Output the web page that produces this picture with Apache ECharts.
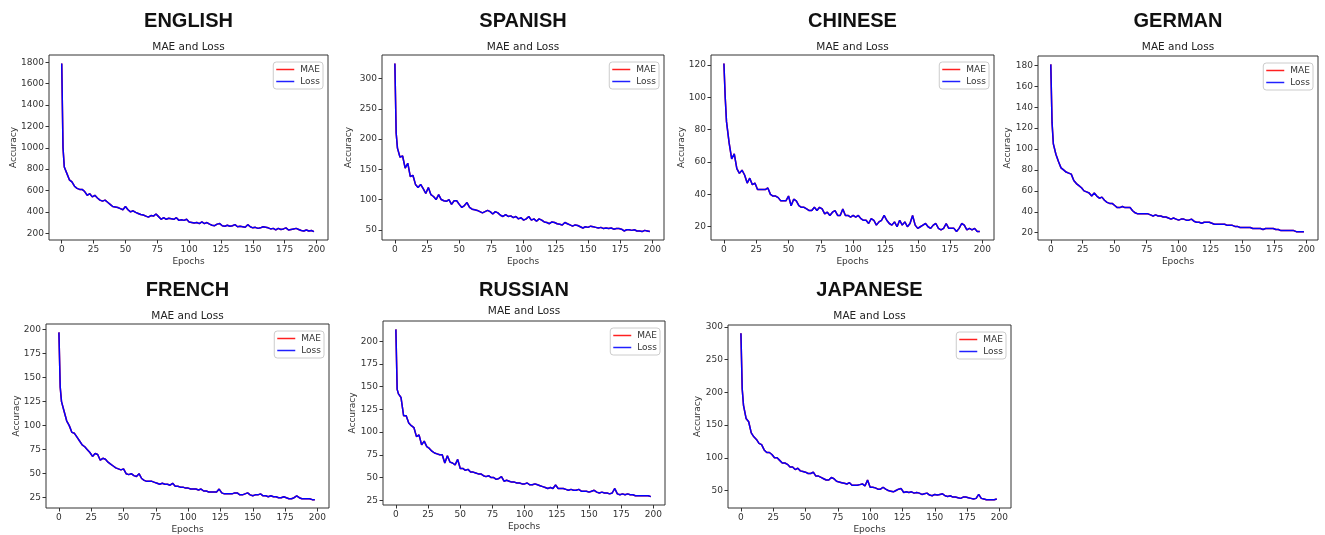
<!DOCTYPE html>
<html>
<head>
<meta charset="utf-8">
<script src="https://cdn.jsdelivr.net/npm/echarts@6/dist/echarts.min.js"></script>
<style>
  html, body { margin: 0; padding: 0; background: #fff; }
  #chart { width: 1325px; height: 535px; }
</style>
</head>
<body>
<div id="chart"></div>
<script>
// epochs: 0, 1, then every second epoch
const EPOCHS = [0, 1];
for (let e = 2; e <= 198; e += 2) EPOCHS.push(e);

const LANGUAGES = ['ENGLISH', 'SPANISH', 'CHINESE', 'GERMAN', 'FRENCH', 'RUSSIAN', 'JAPANESE'];

// loss values (MAE is the same curve, drawn underneath)
const ENGLISH = [1790, 1000,
  820, 760, 700, 680, 640, 620, 610, 610, 590, 555,
  570, 540, 555, 530, 510, 500, 510, 490, 470, 450,
  445, 440, 430, 420, 450, 420, 400, 410, 395, 385,
  375, 370, 360, 350, 365, 360, 380, 355, 330, 345,
  330, 340, 335, 330, 345, 320, 325, 320, 330, 305,
  300, 295, 300, 290, 305, 290, 300, 285, 275, 270,
  285, 290, 270, 265, 275, 265, 270, 280, 260, 265,
  260, 255, 280, 260, 250, 255, 245, 250, 260, 255,
  250, 240, 245, 230, 245, 235, 240, 250, 230, 235,
  240, 245, 235, 225, 220, 230, 220, 225, 215];

const SPANISH = [325, 210,
  185, 170, 172, 152, 160, 138, 140, 125, 120, 125,
  118, 110, 120, 108, 105, 100, 108, 100, 98, 97,
  100, 92, 98, 98, 92, 87, 90, 95, 87, 84,
  83, 82, 80, 78, 80, 82, 80, 76, 80, 78,
  74, 72, 75, 72, 73, 70, 72, 68, 70, 66,
  68, 72, 66, 68, 64, 68, 66, 63, 62, 60,
  63, 62, 60, 59, 58, 62, 60, 58, 56, 58,
  57, 55, 53, 55, 54, 56, 55, 54, 53, 54,
  52, 53, 52, 53, 51, 52, 52, 51, 48, 50,
  50, 49, 50, 48, 48, 47, 49, 48, 47];

const CHINESE = [121, 100,
  85, 72, 62, 65, 56, 53, 55, 52, 47, 50,
  46, 47, 43, 43, 43, 43, 44, 40, 39, 39,
  38, 36, 36, 36, 39, 33, 37, 36, 33, 32,
  32, 31, 30, 30, 32, 30, 32, 31, 28, 29,
  27, 29, 30, 27, 27, 31, 27, 27, 26, 27,
  26, 27, 25, 24, 24, 22, 25, 24, 21, 23,
  24, 27, 24, 22, 21, 23, 20, 24, 21, 23,
  20, 22, 27, 21, 19, 20, 21, 22, 20, 19,
  21, 22, 19, 18, 19, 22, 19, 19, 19, 17,
  19, 22, 21, 18, 19, 18, 19, 17, 17];

const GERMAN = [181, 125,
  105, 95, 88, 82, 80, 78, 77, 76, 70, 67,
  65, 63, 60, 59, 58, 55, 58, 55, 53, 54,
  51, 49, 48, 48, 46, 44, 44, 45, 44, 44,
  44, 41, 39, 38, 38, 38, 38, 38, 37, 36,
  37, 36, 36, 35, 35, 34, 33, 34, 33, 32,
  33, 33, 32, 32, 33, 31, 30, 30, 29, 30,
  30, 30, 29, 28, 28, 28, 28, 28, 27, 27,
  27, 26, 26, 25, 25, 25, 25, 25, 24, 24,
  24, 24, 23, 24, 24, 24, 24, 23, 23, 22,
  22, 22, 22, 22, 22, 21, 21, 21, 21];

const FRENCH = [197, 140,
  125, 115, 105, 100, 93, 92, 88, 84, 80, 78,
  75, 72, 68, 71, 70, 64, 66, 65, 62, 60,
  58, 56, 55, 54, 55, 50, 49, 50, 48, 47,
  50, 45, 43, 42, 42, 42, 41, 40, 39, 40,
  39, 39, 38, 40, 37, 37, 36, 36, 35, 35,
  34, 34, 34, 33, 34, 32, 32, 31, 31, 31,
  31, 34, 30, 29, 29, 29, 29, 30, 30, 28,
  28, 29, 30, 28, 27, 28, 28, 29, 27, 27,
  26, 27, 26, 26, 25, 25, 26, 25, 24, 24,
  25, 27, 25, 24, 24, 24, 24, 23, 23];

const RUSSIAN = [213, 147,
  142, 138, 118, 118, 110, 107, 105, 95, 97, 86,
  90, 84, 82, 79, 77, 76, 75, 75, 66, 74,
  67, 66, 64, 70, 60, 60, 58, 59, 56, 56,
  55, 54, 54, 52, 51, 52, 50, 50, 48, 49,
  51, 46, 47, 46, 45, 45, 44, 44, 43, 43,
  44, 42, 42, 43, 42, 41, 40, 39, 38, 39,
  38, 42, 38, 38, 38, 37, 36, 37, 36, 36,
  37, 35, 35, 35, 34, 35, 36, 34, 33, 34,
  33, 33, 32, 33, 38, 32, 31, 32, 31, 32,
  31, 31, 30, 30, 30, 30, 30, 30, 29];

const JAPANESE = [290, 205,
  180, 160, 155, 138, 132, 128, 122, 120, 112, 108,
  108, 105, 100, 100, 96, 92, 92, 90, 86, 86,
  82, 84, 80, 79, 78, 76, 76, 78, 72, 72,
  70, 68, 66, 66, 70, 68, 64, 63, 62, 61,
  60, 62, 58, 58, 58, 59, 60, 57, 66, 55,
  55, 54, 52, 52, 55, 52, 50, 49, 48, 50,
  52, 53, 47, 48, 47, 48, 46, 47, 46, 44,
  45, 46, 43, 42, 44, 43, 44, 45, 42, 41,
  42, 40, 40, 39, 38, 40, 40, 39, 38, 37,
  38, 44, 38, 37, 36, 36, 36, 36, 37];

const LOSSES = [ENGLISH, SPANISH, CHINESE, GERMAN, FRENCH, RUSSIAN, JAPANESE];

const X_TICKS = [0, 25, 50, 75, 100, 125, 150, 175, 200];
const Y_TICKS = [
  [200, 400, 600, 800, 1000, 1200, 1400, 1600, 1800],
  [50, 100, 150, 200, 250, 300],
  [20, 40, 60, 80, 100, 120],
  [20, 40, 60, 80, 100, 120, 140, 160, 180],
  [25, 50, 75, 100, 125, 150, 175, 200],
  [25, 50, 75, 100, 125, 150, 175, 200],
  [50, 100, 150, 200, 250, 300]
];

// plot boxes: left, top, width, height, title centre y, subtitle centre y, y-name gap
const BOXES = [
  [49, 55, 279, 185, 22, 48, 31],
  [382, 55, 282, 185, 22, 48, 29],
  [711, 55, 283, 185, 22, 48, 25],
  [1038, 56, 280, 184, 22, 48, 26],
  [46, 324, 283, 185, 291, 317, 25],
  [383, 321, 282, 184, 291, 312, 26],
  [728, 325, 283, 184, 291, 317, 26]
];

const FONT = 'DejaVu Sans';
const chart = echarts.init(document.getElementById('chart'), null, { renderer: 'canvas' });

const grid = [], xAxis = [], yAxis = [], title = [], legend = [], series = [];

LANGUAGES.forEach((lang, i) => {
  const [l, t, w, h, ty, sy, gap] = BOXES[i];
  const vals = LOSSES[i];
  const lo = Math.min(...vals), hi = Math.max(...vals);
  const pad = (hi - lo) * 0.05;
  const cx = l + w / 2;

  grid.push({ left: l, top: t, width: w, height: h, show: true,
    borderColor: '#333', borderWidth: 1, backgroundColor: '#fff' });

  title.push({ text: lang, left: cx, top: ty - 11, textAlign: 'center', padding: 0,
    textStyle: { fontFamily: 'Liberation Sans', fontWeight: 'bold', fontSize: 20, color: '#111' } });
  title.push({ text: 'MAE and Loss', left: cx, top: sy - 6, textAlign: 'center', padding: 0,
    textStyle: { fontFamily: FONT, fontWeight: 'normal', fontSize: 10.5, color: '#222' } });

  xAxis.push({
    type: 'value', gridIndex: i, min: -10, max: 209,
    name: 'Epochs', nameLocation: 'middle', nameGap: 17, nameMoveOverlap: false,
    nameTextStyle: { fontFamily: FONT, fontSize: 9, color: '#333' },
    axisLine: { show: false, onZero: false },
    axisTick: { show: true, inside: false, length: 3.5, customValues: X_TICKS,
      lineStyle: { color: '#333' } },
    axisLabel: { customValues: X_TICKS, margin: 5, formatter: v => String(v),
      fontFamily: FONT, fontSize: 9, color: '#333' },
    splitLine: { show: false }
  });

  yAxis.push({
    type: 'value', gridIndex: i, min: lo - pad, max: hi + pad,
    name: 'Accuracy', nameLocation: 'middle', nameGap: gap, nameMoveOverlap: false,
    nameTextStyle: { fontFamily: FONT, fontSize: 9, color: '#333' },
    axisLine: { show: false, onZero: false },
    axisTick: { show: true, inside: false, length: 3.5, customValues: Y_TICKS[i],
      lineStyle: { color: '#333' } },
    axisLabel: { customValues: Y_TICKS[i], margin: 5, formatter: v => String(v),
      fontFamily: FONT, fontSize: 9, color: '#333' },
    splitLine: { show: false }
  });

  legend.push({
    data: [
      { name: 'MAE', icon: 'rect', itemStyle: { color: '#ff2020' } },
      { name: 'Loss', icon: 'rect', itemStyle: { color: '#2020ff' } }
    ],
    orient: 'vertical',
    right: 1325 - (l + w) + 5, top: t + 7,
    padding: [3, 3], itemGap: 3, itemWidth: 18, itemHeight: 1.5,
    backgroundColor: '#fff', borderColor: '#ccc', borderWidth: 1, borderRadius: 3,
    textStyle: { fontFamily: FONT, fontSize: 9, color: '#333', padding: [0, 0, 0, 1] }
  });

  const pts = EPOCHS.map((e, k) => [e, vals[k]]);
  series.push({ name: 'MAE', type: 'line', xAxisIndex: i, yAxisIndex: i, data: pts,
    symbol: 'none', lineStyle: { color: '#ff0000', width: 1.5 }, itemStyle: { color: '#ff0000' } });
  series.push({ name: 'Loss', type: 'line', xAxisIndex: i, yAxisIndex: i, data: pts,
    symbol: 'none', lineStyle: { color: '#0000ff', width: 1.5 }, itemStyle: { color: '#0000ff' } });
});

chart.setOption({
  backgroundColor: '#fff',
  animation: false,
  title, grid, xAxis, yAxis, legend, series
});
</script>
</body>
</html>
